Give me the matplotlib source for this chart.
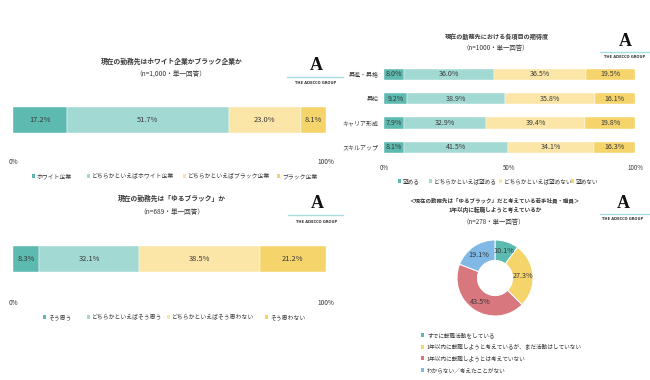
import matplotlib
matplotlib.use("Agg")
import matplotlib.pyplot as plt
from matplotlib.lines import Line2D
from matplotlib.patches import Rectangle

plt.rcParams['font.family'] = ['Noto Sans CJK JP', 'DejaVu Sans']

# ---------------- data ----------------
p1_labels = ["ホワイト企業", "どちらかといえばホワイト企業", "どちらかといえばブラック企業", "ブラック企業"]
p1_values = [17.2, 51.7, 23.0, 8.1]

p2_categories = ["昇進・昇格", "昇給", "キャリア形成", "スキルアップ"]
p2_labels = ["望める", "どちらかといえば望める", "どちらかといえば望めない", "望めない"]
p2_values = [
    [8.0, 36.0, 36.5, 19.5],
    [9.2, 38.9, 35.8, 16.1],
    [7.9, 32.9, 39.4, 19.8],
    [8.1, 41.5, 34.1, 16.3],
]
p2_ticks = [0, 50, 100]

p3_labels = ["そう思う", "どちらかといえばそう思う", "どちらかといえばそう思わない", "そう思わない"]
p3_values = [8.3, 32.1, 38.5, 21.2]

p4_labels = ["すでに転職活動をしている", "1年以内に転職しようと考えているが、まだ活動はしていない",
             "1年以内に転職しようとは考えていない", "わからない／考えたことがない"]
p4_values = [10.1, 27.3, 43.5, 19.1]

bar_colors = ["#5DBAB0", "#A3D9D3", "#FBE6A8", "#F5D46C"]
pie_colors = ["#5DBAB0", "#F5D46C", "#D9777F", "#80B8E6"]
TXT = "#383838"
LOGO_LINE = "#A9DDDD"

W, H = 650, 380
fig = plt.figure(figsize=(6.5, 3.8), dpi=100)
fig.patch.set_facecolor("white")


def fx(x):
    return x / W


def fy(y):
    return 1 - y / H


def ftext(x, y, s, fontsize=4.5, **kw):
    # y is the visual centre of the glyphs; place via the baseline for consistency
    kw.setdefault("color", TXT)
    kw.setdefault("ha", "center")
    em = fontsize * 100 / 72
    fig.text(fx(x), fy(y + 0.38 * em), s, fontsize=fontsize, va="baseline", **kw)


def square(x, y, c, size=3.2):
    fig.add_artist(Rectangle((fx(x), fy(y + size / 2)), size / W, size / H, color=c,
                             transform=fig.transFigure, lw=0))


def logo(xc, yA, yline, ytext, x0, x1):
    fig.text(fx(xc), fy(yA), "A", family="Liberation Serif", fontweight="bold", fontsize=13,
             color="#111111", va="center", ha="center")
    fig.add_artist(Line2D([fx(x0), fx(x1)], [fy(yline), fy(yline)], color=LOGO_LINE, lw=1.0,
                          transform=fig.transFigure))
    fig.text(fx(xc), fy(ytext), "THE ADECCO GROUP", fontsize=2.6, fontweight="bold",
             color="#333333", family="DejaVu Sans", va="center", ha="center")


def legend_row(xs, y, labels, colors, fs=4.2):
    for x, lab, c in zip(xs, labels, colors):
        square(x, y, c)
        ftext(x + 5, y, lab, ha="left", fontsize=fs)


def stacked_single(x0, x1, y0, y1, values):
    ax = fig.add_axes([fx(x0), fy(y1), fx(x1) - fx(x0), (y1 - y0) / H])
    left = 0
    for v, c in zip(values, bar_colors):
        ax.barh(0, v, left=left, height=1.0, color=c, edgecolor="white", linewidth=0.3)
        ax.text(left + v / 2, 0, f"{v:.1f}%", ha="center", va="center", fontsize=5.4, color=TXT)
        left += v
    ax.set_xlim(0, left)
    ax.set_ylim(-0.5, 0.5)
    ax.axis("off")
    return ax


# ---------------- panel 1 ----------------
ftext(172, 61, "現在の勤務先はホワイト企業かブラック企業か", fontsize=4.9, fontweight="bold")
ftext(171, 73, "（n=1,000・単一回答）", fontsize=4.8)
logo(316, 66, 77, 83, 287, 343)
stacked_single(13, 326, 107, 133, p1_values)
ftext(13, 162, "0%", fontsize=4.7)
ftext(326, 162, "100%", fontsize=4.7)
legend_row([32, 87, 183, 277], 176, p1_labels, bar_colors)

# ---------------- panel 2 ----------------
ftext(497, 37, "現在の勤務先における各項目の期待度", fontsize=4.4, fontweight="bold")
ftext(496, 48, "（n=1000・単一回答）", fontsize=4.6)
logo(625, 41, 52, 57, 600, 650)
ax2 = fig.add_axes([fx(384), fy(159.5), fx(635) - fx(384), 97.5 / H])
for i, row in enumerate(p2_values):
    left = 0
    for v, c in zip(row, bar_colors):
        ax2.barh(i, v, left=left, height=0.46, color=c, edgecolor="white", linewidth=0.3)
        ax2.text(left + v / 2, i, f"{v:.1f}%", ha="center", va="center", fontsize=5.1, color=TXT)
        left += v
ax2.set_xlim(0, 100)
ax2.set_ylim(3.5, -0.5)
ax2.set_yticks(range(len(p2_categories)))
ax2.set_yticklabels(p2_categories, fontsize=4.3, color=TXT)
ax2.set_xticks(p2_ticks)
ax2.set_xticklabels([f"{t}%" for t in p2_ticks], fontsize=4.5, color=TXT)
ax2.tick_params(length=0, axis="y", pad=4.0)
ax2.tick_params(length=0, axis="x", pad=3.5)
for s in ax2.spines.values():
    s.set_visible(False)
legend_row([398, 429, 499, 571], 181, p2_labels, bar_colors, fs=4.1)

# ---------------- panel 3 ----------------
ftext(172, 198, "現在の勤務先は「ゆるブラック」か", fontsize=4.9, fontweight="bold")
ftext(172, 211, "（n=689・単一回答）", fontsize=4.8)
logo(317, 204, 215, 222, 288, 343)
stacked_single(13, 326, 246, 272, p3_values)
ftext(13, 303, "0%", fontsize=4.7)
ftext(326, 303, "100%", fontsize=4.7)
legend_row([43, 87, 167, 265], 317, p3_labels, bar_colors)

# ---------------- panel 4 ----------------
ftext(495, 200, "＜現在の勤務先は「ゆるブラック」だと考えている若手社員・職員＞", fontsize=3.95, fontweight="bold")
ftext(495, 210, "1年以内に転職しようと考えているか", fontsize=4.1, fontweight="bold")
ftext(494, 222, "（n=278・単一回答）", fontsize=4.6)
logo(623, 204, 214, 219, 600, 650)
ax4 = fig.add_axes([fx(455), fy(318), 80 / W, 80 / H])
ax4.pie(p4_values, colors=pie_colors, startangle=90, counterclock=False, radius=0.95,
        wedgeprops=dict(width=0.51, edgecolor="white", linewidth=0.7),
        autopct="%.1f%%", pctdistance=0.74,
        textprops=dict(fontsize=5.2, color=TXT))
ax4.set_xlim(-1, 1)
ax4.set_ylim(-1, 1)
ax4.set_aspect("equal")
ax4.axis("off")
for y, lab, c in zip([335, 347, 358, 370], p4_labels, pie_colors):
    square(421, y, c)
    ftext(427, y, lab, ha="left", fontsize=4.1)

fig.savefig("out.png", dpi=100, facecolor="white")
